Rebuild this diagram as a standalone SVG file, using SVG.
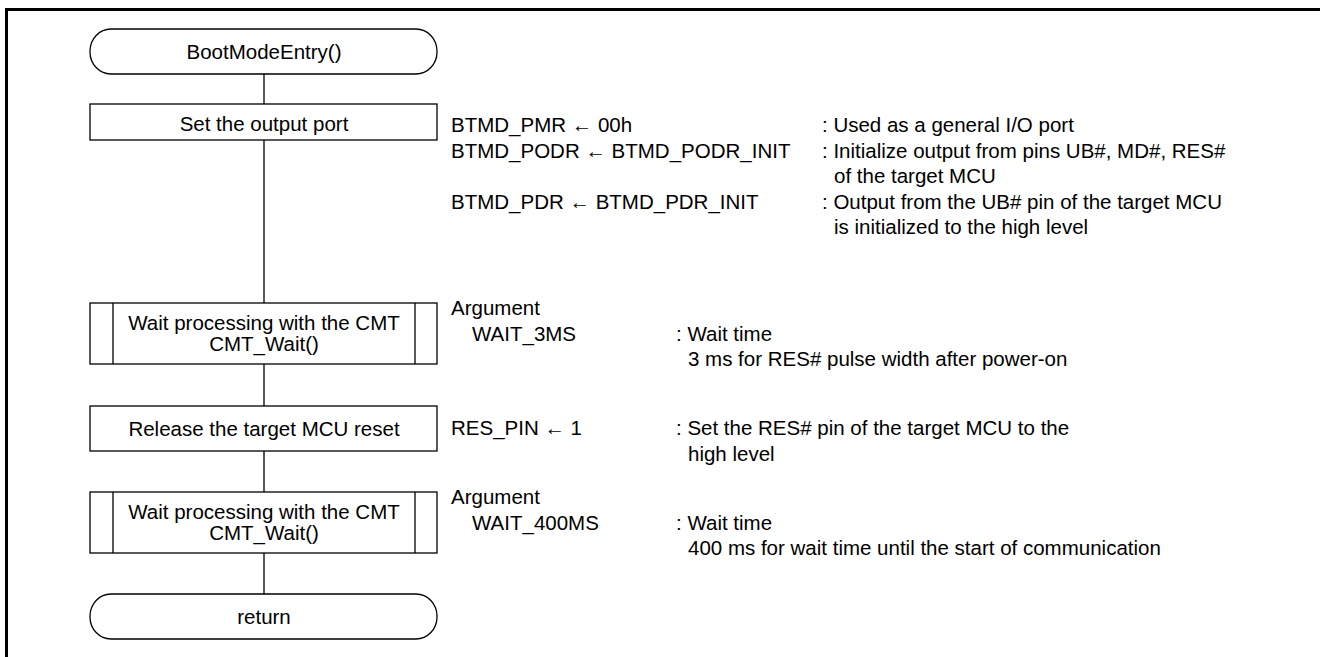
<svg xmlns="http://www.w3.org/2000/svg" width="1320" height="657" viewBox="0 0 1320 657">
<style>
text{font-family:"Liberation Sans",Arial,sans-serif;font-size:20.5px;fill:#000}
.c{text-anchor:middle}
.box{fill:#fff;stroke:#000;stroke-width:1.3}
.ln{stroke:#000;stroke-width:1.3;fill:none}
</style>
<rect width="1320" height="657" fill="#fff"/>
<g id="frame">
<line x1="5" y1="9.5" x2="1320" y2="9.5" stroke="#000" stroke-width="3"/>
<line x1="6.5" y1="8" x2="6.5" y2="657" stroke="#000" stroke-width="3"/>
</g>
<g id="connectors">
<line class="ln" x1="264" y1="74" x2="264" y2="104"/>
<line class="ln" x1="264" y1="140" x2="264" y2="303"/>
<line class="ln" x1="264" y1="364" x2="264" y2="406"/>
<line class="ln" x1="264" y1="451" x2="264" y2="492"/>
<line class="ln" x1="264" y1="553" x2="264" y2="594"/>
</g>
<g id="start">
<rect class="box" x="90" y="29" width="347" height="45" rx="21" ry="22"/>
<text class="c" x="264" y="58.5">BootModeEntry()</text>
</g>
<g id="setport">
<rect class="box" x="90" y="104" width="347" height="36"/>
<text class="c" x="264" y="131">Set the output port</text>
</g>
<g id="setport-notes">
<text x="451" y="132">BTMD_PMR ← 00h</text>
<text x="451" y="157.5">BTMD_PODR ← BTMD_PODR_INIT</text>
<text x="451" y="208.5">BTMD_PDR ← BTMD_PDR_INIT</text>
<text x="822" y="132">: Used as a general I/O port</text>
<text x="822" y="157.5">: Initialize output from pins UB#, MD#, RES#</text>
<text x="834" y="183">of the target MCU</text>
<text x="822" y="208.5">: Output from the UB# pin of the target MCU</text>
<text x="834" y="234">is initialized to the high level</text>
</g>
<g id="wait1">
<rect class="box" x="90" y="303" width="347" height="61"/>
<line class="ln" x1="113" y1="303" x2="113" y2="364"/>
<line class="ln" x1="415" y1="303" x2="415" y2="364"/>
<text class="c" x="264" y="330.3">Wait processing with the CMT</text>
<text class="c" x="264" y="351.3">CMT_Wait()</text>
</g>
<g id="wait1-notes">
<text x="451" y="315">Argument</text>
<text x="472" y="340.5">WAIT_3MS</text>
<text x="676" y="340.5">: Wait time</text>
<text x="688" y="366">3 ms for RES# pulse width after power-on</text>
</g>
<g id="release">
<rect class="box" x="90" y="406" width="347" height="45"/>
<text class="c" x="264" y="435.8">Release the target MCU reset</text>
</g>
<g id="release-notes">
<text x="451" y="435">RES_PIN ← 1</text>
<text x="676" y="435">: Set the RES# pin of the target MCU to the</text>
<text x="688" y="460.5">high level</text>
</g>
<g id="wait2">
<rect class="box" x="90" y="492" width="347" height="61"/>
<line class="ln" x1="113" y1="492" x2="113" y2="553"/>
<line class="ln" x1="415" y1="492" x2="415" y2="553"/>
<text class="c" x="264" y="519.3">Wait processing with the CMT</text>
<text class="c" x="264" y="540.3">CMT_Wait()</text>
</g>
<g id="wait2-notes">
<text x="451" y="504">Argument</text>
<text x="472" y="529.5">WAIT_400MS</text>
<text x="676" y="529.5">: Wait time</text>
<text x="688" y="555">400 ms for wait time until the start of communication</text>
</g>
<g id="end">
<rect class="box" x="90" y="594" width="347" height="45" rx="21" ry="22"/>
<text class="c" x="264" y="623.5">return</text>
</g>
</svg>
